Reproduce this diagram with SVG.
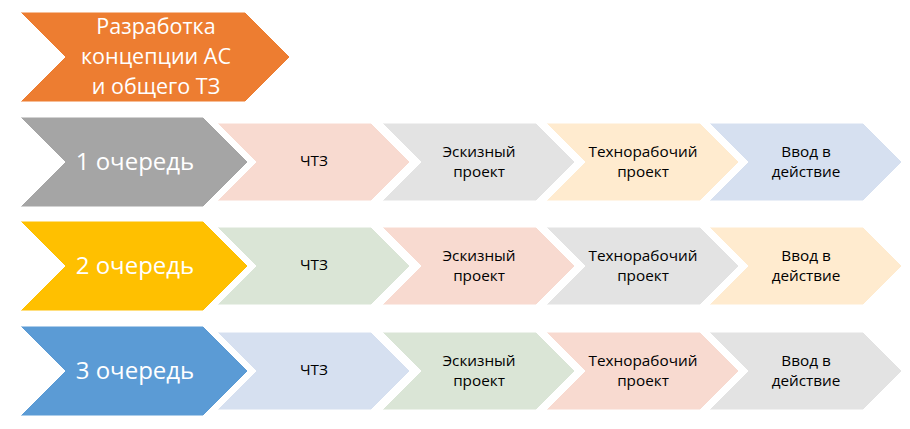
<svg xmlns="http://www.w3.org/2000/svg" width="910" height="429" viewBox="0 0 910 429">
<defs>
<style>
.big text{font-family:"Open Sans","Noto Sans","Liberation Sans",sans-serif;fill:#ffffff;text-anchor:middle}
.sm text{font-family:"Open Sans","Noto Sans","Liberation Sans",sans-serif;fill:#000000;text-anchor:middle;font-size:15.3px}
.big polygon,.sm polygon{stroke:#ffffff;stroke-width:1}
.pink{fill:#F8DAD0}.gray{fill:#E3E3E3}.yel{fill:#FFEBCF}.blue{fill:#D6E0F0}.green{fill:#DAE5D6}
</style>
</defs>
<rect width="910" height="429" fill="#ffffff"/>
<g id="top" class="big">
<polygon points="20,12 245,12 290,57 245,102 20,102 65,57" fill="#ED7D31"/>
<text x="156" y="34" font-size="21.5">Разработка</text>
<text x="156" y="64" font-size="21.5">концепции АС</text>
<text x="156" y="94" font-size="21.5">и общего ТЗ</text>
</g>
<g id="row1" class="big">
<polygon points="20,117 203,117 248,162 203,207 20,207 65,162" fill="#A5A5A5"/>
<text x="135" y="170" font-size="24">1 очередь</text>
</g>
<g id="row2" class="big">
<polygon points="20,221 203,221 248,266 203,311 20,311 65,266" fill="#FFC000"/>
<text x="135" y="274" font-size="24">2 очередь</text>
</g>
<g id="row3" class="big">
<polygon points="20,326 203,326 248,371 203,416 20,416 65,371" fill="#5B9BD5"/>
<text x="135" y="379" font-size="24">3 очередь</text>
</g>
<g id="r1c1" class="sm"><polygon class="pink" points="217,123 371,123 410,162 371,201 217,201 256,162"/><text x="314" y="166">ЧТЗ</text></g>
<g id="r1c2" class="sm"><polygon class="gray" points="382,123 536,123 575,162 536,201 382,201 421,162"/><text x="479" y="156.5">Эскизный</text><text x="479" y="176.5">проект</text></g>
<g id="r1c3" class="sm"><polygon class="yel" points="546,123 700,123 739,162 700,201 546,201 585,162"/><text x="643" y="156.5">Технорабочий</text><text x="643" y="176.5">проект</text></g>
<g id="r1c4" class="sm"><polygon class="blue" points="709,123 863,123 902,162 863,201 709,201 748,162"/><text x="806" y="156.5">Ввод в</text><text x="806" y="176.5">действие</text></g>
<g id="r2c1" class="sm"><polygon class="green" points="217,227 371,227 410,266 371,305 217,305 256,266"/><text x="314" y="270">ЧТЗ</text></g>
<g id="r2c2" class="sm"><polygon class="pink" points="382,227 536,227 575,266 536,305 382,305 421,266"/><text x="479" y="260.5">Эскизный</text><text x="479" y="280.5">проект</text></g>
<g id="r2c3" class="sm"><polygon class="gray" points="546,227 700,227 739,266 700,305 546,305 585,266"/><text x="643" y="260.5">Технорабочий</text><text x="643" y="280.5">проект</text></g>
<g id="r2c4" class="sm"><polygon class="yel" points="709,227 863,227 902,266 863,305 709,305 748,266"/><text x="806" y="260.5">Ввод в</text><text x="806" y="280.5">действие</text></g>
<g id="r3c1" class="sm"><polygon class="blue" points="217,332 371,332 410,371 371,410 217,410 256,371"/><text x="314" y="375">ЧТЗ</text></g>
<g id="r3c2" class="sm"><polygon class="green" points="382,332 536,332 575,371 536,410 382,410 421,371"/><text x="479" y="365.5">Эскизный</text><text x="479" y="385.5">проект</text></g>
<g id="r3c3" class="sm"><polygon class="pink" points="546,332 700,332 739,371 700,410 546,410 585,371"/><text x="643" y="365.5">Технорабочий</text><text x="643" y="385.5">проект</text></g>
<g id="r3c4" class="sm"><polygon class="gray" points="709,332 863,332 902,371 863,410 709,410 748,371"/><text x="806" y="365.5">Ввод в</text><text x="806" y="385.5">действие</text></g>
<g id="connectors"/>
</svg>
